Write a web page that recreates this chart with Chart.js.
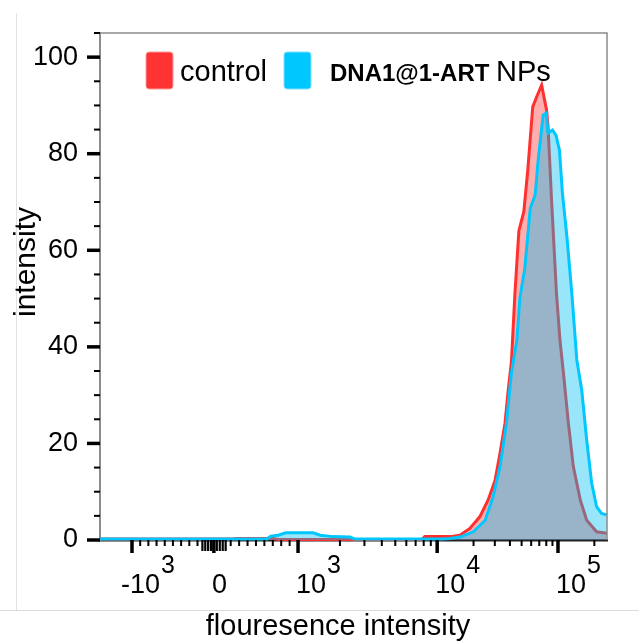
<!DOCTYPE html>
<html>
<head>
<meta charset="utf-8">
<script src="https://cdn.jsdelivr.net/npm/chart.js@4"></script>
<style>
  html, body { margin: 0; padding: 0; background: #fff; }
  #wrap { position: relative; width: 639px; height: 643px; }
  #frame { position: absolute; left: 0; top: 13px; width: 639px; height: 597px;
           border-bottom: 1px solid #dcdcdc; }
  #frameLeft { position: absolute; left: 16px; top: 13px; width: 0; height: 597px;
               border-left: 1px solid #e2e2e2; }
  canvas { position: absolute; left: 0; top: 0; }
</style>
</head>
<body>
<div id="wrap">
  <div id="frame"></div>
  <div id="frameLeft"></div>
  <canvas id="histChart" width="639" height="643"></canvas>
</div>
<script>
// x values are display channels (0-1024) of the biexponential fluorescence axis
const controlX = [0, 265, 275, 350, 360, 650, 656, 707, 727, 747, 767, 784, 798, 808, 818, 824, 831, 838, 846, 856, 864, 874, 882, 892, 902, 905, 912, 922, 929, 936, 946, 956, 970, 983, 1003, 1024];
const controlY = [0.2, 0.2, 0.3, 0.3, 0.1, 0.1, 0.7, 0.7, 1.0, 2.4, 4.8, 8.3, 12.4, 18.0, 24.2, 30.5, 37, 51, 64, 68, 76.6, 89.7, 91.8, 94.2, 89, 85.5, 70.4, 51, 41.4, 34.6, 24.2, 15.2, 8.3, 4.1, 1.7, 1.4];

const npX = [0, 337, 345, 360, 375, 430, 445, 470, 505, 515, 690, 707, 727, 754, 778, 794, 808, 821, 831, 842, 848, 858, 869, 879, 885, 895, 901, 905, 914, 921, 928, 934, 943, 953, 963, 973, 983, 993, 1003, 1013, 1024];
const npY = [0.2, 0.2, 0.8, 1.0, 1.5, 1.5, 1.0, 0.7, 0.6, 0.2, 0.2, 0.3, 0.6, 1.7, 4.1, 9.0, 15.2, 24.2, 34.6, 41.4, 50.1, 56.3, 68.7, 71.5, 78.7, 88, 88.4, 84.3, 84.9, 83.8, 80.7, 71.8, 62.8, 51, 37.3, 31, 20.7, 11.8, 6.9, 5.5, 5.2];

const seriesNames = ['control', 'DNA1@1-ART', 'NPs'];

// axis calibration: fluorescence value -> display channel
const xMajorValues = [-1000, 0, 1000, 10000, 100000];
const xMajorChannels = [64.6, 230, 400, 681, 925];
const xTickBase = ['-10', '0', '10', '10', '10'];
const xTickExp = ['3', '', '3', '4', '5'];

const yMax = 105;
const yMajorStep = 20;
const yMinorStep = 5;

const FONT = '"Liberation Sans", Arial, Helvetica, sans-serif';

function channelOf(v) {
  if (v >= -1000 && v <= 0) return 64.6 + (v + 1000) / 1000 * (230 - 64.6);
  if (v > 0 && v <= 1000) return 230 + v / 1000 * (400 - 230);
  if (v > 1000 && v <= 10000) return 400 + Math.log10(v / 1000) * (681 - 400);
  if (v > 10000) return 681 + Math.log10(v / 10000) * (925 - 681);
  return 64.6 - Math.log10(-v / 1000) * (681 - 400);
}

function minorValues() {
  const vals = [];
  for (let v = -900; v <= -200; v += 100) vals.push(v);
  for (let v = 200; v <= 900; v += 100) vals.push(v);
  for (let d = 1000; d <= 10000; d *= 10) {
    for (let m = 2; m <= 9; m++) vals.push(m * d);
  }
  vals.push(200000);
  return vals;
}

function zeroCluster() {
  const vals = [];
  for (let v = -140; v <= 140; v += 35) vals.push(v);
  return vals;
}

const axisDecor = {
  id: 'axisDecor',
  afterDraw(chart) {
    const { ctx, chartArea: a, scales: { x, y } } = chart;
    ctx.save();

    // top and right edges of the box
    ctx.strokeStyle = '#8c8c8c';
    ctx.lineWidth = 1.5;
    ctx.beginPath();
    ctx.moveTo(a.left - 5, a.top);
    ctx.lineTo(a.right, a.top);
    ctx.lineTo(a.right, a.bottom);
    ctx.stroke();

    // y ticks
    ctx.strokeStyle = '#000';
    for (let v = 0; v <= yMax; v += yMinorStep) {
      const major = v % yMajorStep === 0;
      const py = y.getPixelForValue(v);
      ctx.lineWidth = major ? 3.5 : 2;
      ctx.beginPath();
      ctx.moveTo(a.left - (major ? 13 : 6), py);
      ctx.lineTo(a.left, py);
      ctx.stroke();
    }

    // x ticks
    const drawX = (ch, len, w) => {
      const px = x.getPixelForValue(ch);
      ctx.lineWidth = w;
      ctx.beginPath();
      ctx.moveTo(px, a.bottom);
      ctx.lineTo(px, a.bottom + len);
      ctx.stroke();
    };
    minorValues().forEach(v => drawX(channelOf(v), 6, 2));
    zeroCluster().forEach(v => drawX(channelOf(v), 11, 2.2));
    xMajorChannels.forEach(ch => drawX(ch, 13, 3.5));

    // x tick labels with exponents
    ctx.fillStyle = '#000';
    ctx.textBaseline = 'alphabetic';
    ctx.textAlign = 'left';
    xMajorChannels.forEach((ch, i) => {
      const px = x.getPixelForValue(ch);
      const base = xTickBase[i];
      ctx.font = '27px ' + FONT;
      const minus = base.startsWith('-') ? ctx.measureText('-').width : 0;
      const startX = px - 2 - minus;
      ctx.fillText(base, startX, 593);
      if (xTickExp[i]) {
        const w = ctx.measureText(base).width;
        ctx.font = '25px ' + FONT;
        ctx.fillText(xTickExp[i], startX + w + 1, 573);
      }
    });

    // axis titles
    ctx.font = '29px ' + FONT;
    ctx.textAlign = 'center';
    ctx.textBaseline = 'middle';
    ctx.fillText('flouresence intensity', 338, 627);
    ctx.save();
    ctx.translate(27, 262);
    ctx.rotate(-Math.PI / 2);
    ctx.font = '30px ' + FONT;
    ctx.fillText('intensity', 0, 0);
    ctx.restore();

    // legend
    const swatch = (sx, color, edge) => {
      ctx.fillStyle = color;
      ctx.strokeStyle = edge;
      ctx.lineWidth = 1;
      ctx.beginPath();
      ctx.roundRect(sx, 52, 27, 37, 3);
      ctx.fill();
      ctx.stroke();
    };
    swatch(146, '#ff3333', '#ff9a9a');
    swatch(284, '#00c8ff', '#7fe0ff');
    ctx.fillStyle = '#000';
    ctx.textAlign = 'left';
    ctx.textBaseline = 'alphabetic';
    ctx.font = '29px ' + FONT;
    ctx.fillText(seriesNames[0], 180, 81);
    ctx.font = 'bold 24px ' + FONT;
    ctx.fillText(seriesNames[1], 330, 81);
    const bw = ctx.measureText(seriesNames[1] + ' ').width;
    ctx.font = '29px ' + FONT;
    ctx.fillText(seriesNames[2], 330 + bw, 81);

    ctx.restore();
  }
};

new Chart(document.getElementById('histChart'), {
  type: 'line',
  data: {
    datasets: [
      {
        label: seriesNames[0],
        data: controlX.map((v, i) => ({ x: v, y: controlY[i] })),
        borderColor: '#ff3030',
        backgroundColor: 'rgba(255, 50, 50, 0.4)',
        borderWidth: 3,
        fill: 'origin',
        pointRadius: 0,
        tension: 0,
        order: 2,
        clip: false
      },
      {
        label: seriesNames[1] + ' ' + seriesNames[2],
        data: npX.map((v, i) => ({ x: v, y: npY[i] })),
        borderColor: '#00c8ff',
        backgroundColor: 'rgba(0, 190, 240, 0.4)',
        borderWidth: 3,
        fill: 'origin',
        pointRadius: 0,
        tension: 0,
        order: 1,
        clip: false
      }
    ]
  },
  options: {
    responsive: false,
    animation: false,
    layout: { padding: { top: 33, right: 32, left: 0, bottom: 0 } },
    plugins: {
      legend: { display: false },
      tooltip: { enabled: false }
    },
    scales: {
      x: {
        type: 'linear',
        min: 0,
        max: 1024,
        grid: { display: false },
        ticks: { display: false },
        border: { color: '#222', width: 2.5 },
        afterFit(s) { s.height = 103; }
      },
      y: {
        min: 0,
        max: yMax,
        ticks: {
          stepSize: yMajorStep,
          includeBounds: false,
          color: '#000',
          padding: 14,
          font: { size: 27, family: FONT }
        },
        grid: { display: false },
        border: { color: '#8c8c8c', width: 2 },
        afterFit(s) { s.width = 100; }
      }
    }
  },
  plugins: [axisDecor]
});
</script>
</body>
</html>
